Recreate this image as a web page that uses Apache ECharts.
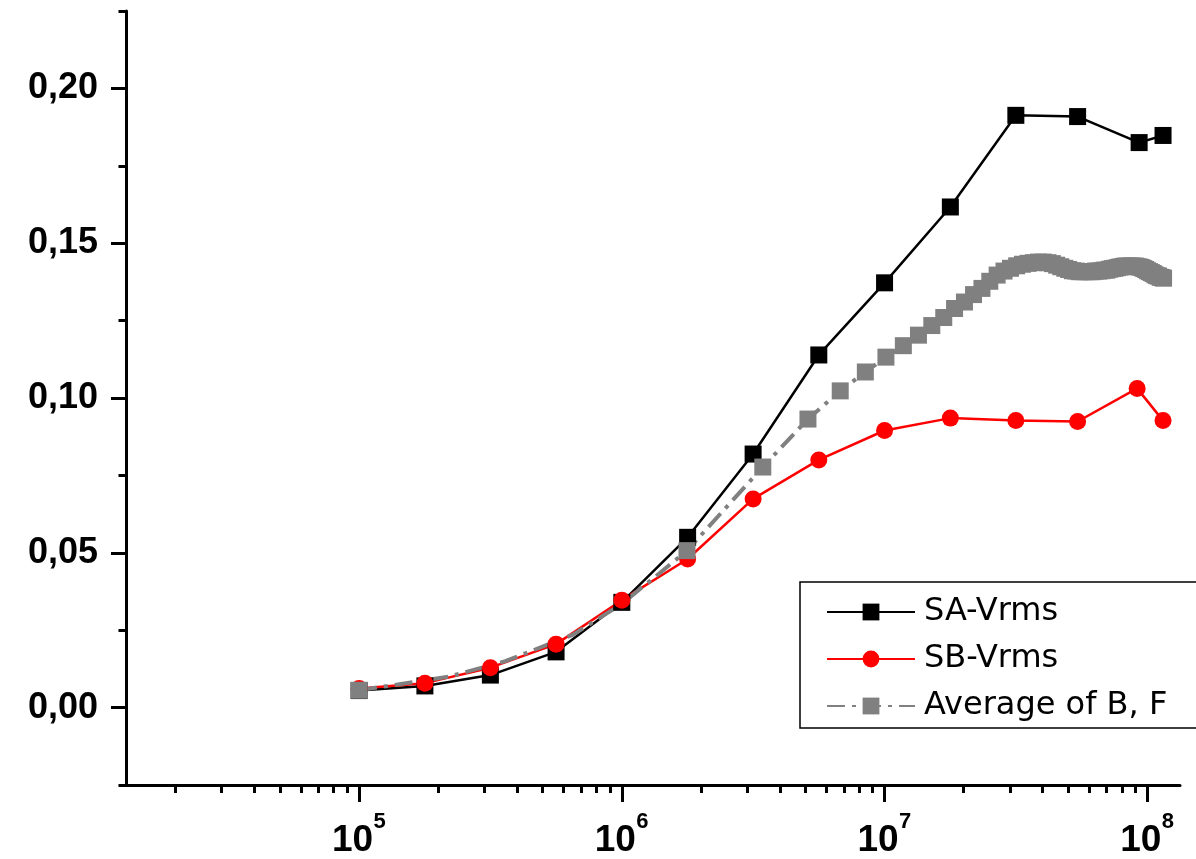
<!DOCTYPE html>
<html><head><meta charset="utf-8">
<script src="https://cdn.jsdelivr.net/npm/echarts@6/dist/echarts.min.js"></script>
<style>html,body{margin:0;padding:0;background:#fff}#c{width:1196px;height:859px}</style>
</head><body><div id="c"></div>
<script>
// ---- data ----
const seriesNames = ['SA-Vrms', 'SB-Vrms', 'Average of B, F'];

const saF = [1e5, 1.78e5, 3.16e5, 5.62e5, 1e6, 1.78e6, 3.16e6, 5.62e6, 1e7, 1.78e7, 3.16e7, 5.43e7, 9.31e7, 1.148e8];
const saV = [0.0055, 0.0070, 0.0105, 0.0180, 0.0340, 0.0550, 0.0819, 0.1139, 0.1372, 0.1617, 0.1913, 0.1909, 0.1825, 0.1848];

const sbF = [1e5, 1.78e5, 3.16e5, 5.62e5, 1e6, 1.78e6, 3.16e6, 5.62e6, 1e7, 1.78e7, 3.16e7, 5.43e7, 9.15e7, 1.148e8];
const sbV = [0.0062, 0.0079, 0.0129, 0.0205, 0.0347, 0.0480, 0.0674, 0.0800, 0.0895, 0.0935, 0.0927, 0.0924, 0.1031, 0.0927];

const avgF = [1.0e5, 1.77e6, 3.44e6, 5.11e6, 6.78e6, 8.45e6, 1.012e7, 1.179e7, 1.346e7, 1.513e7,
  1.68e7, 1.847e7, 2.014e7, 2.181e7, 2.348e7, 2.515e7, 2.682e7, 2.849e7, 3.016e7, 3.183e7,
  3.35e7, 3.517e7, 3.684e7, 3.851e7, 4.018e7, 4.185e7, 4.352e7, 4.519e7, 4.686e7, 4.853e7,
  5.02e7, 5.187e7, 5.354e7, 5.521e7, 5.688e7, 5.855e7, 6.022e7, 6.189e7, 6.356e7, 6.523e7,
  6.69e7, 6.857e7, 7.024e7, 7.191e7, 7.358e7, 7.525e7, 7.692e7, 7.859e7, 8.026e7, 8.193e7,
  8.36e7, 8.527e7, 8.694e7, 8.861e7, 9.028e7, 9.195e7, 9.362e7, 9.529e7, 9.696e7, 9.863e7,
  1.003e8, 1.0197e8, 1.0364e8, 1.0531e8, 1.0698e8, 1.0865e8, 1.1032e8, 1.1199e8, 1.1366e8, 1.1533e8];
const avgV = [0.0056, 0.0507, 0.0777, 0.0932, 0.1023, 0.1084, 0.1132, 0.1169, 0.1203, 0.1234,
  0.1260, 0.1289, 0.1310, 0.1334, 0.1354, 0.1377, 0.1397, 0.1410, 0.1419, 0.1427,
  0.1432, 0.1435, 0.1437, 0.1439, 0.1439, 0.1437, 0.1434, 0.1429, 0.1424, 0.1419,
  0.1415, 0.1411, 0.1410, 0.1408, 0.1408, 0.1408, 0.1408, 0.1408, 0.1410, 0.1410,
  0.1411, 0.1413, 0.1413, 0.1416, 0.1418, 0.1419, 0.1421, 0.1423, 0.1424, 0.1426,
  0.1426, 0.1426, 0.1426, 0.1426, 0.1426, 0.1424, 0.1423, 0.1421, 0.1418, 0.1415,
  0.1411, 0.1408, 0.1405, 0.1402, 0.1398, 0.1395, 0.1394, 0.1390, 0.1389, 0.1387];
// positions read along the dashed gray line where it bends and no marker is drawn
const avgTraceF = [2.2e5, 3.6e5, 6.5e5, 1.0e6, 1.35e6];
const avgTraceV = [0.0100, 0.0150, 0.0235, 0.0335, 0.0425];

const xMajorTicks = [1e5, 1e6, 1e7, 1e8];
const xMinorTicks = [2e4,3e4,4e4,5e4,6e4,7e4,8e4,9e4, 2e5,3e5,4e5,5e5,6e5,7e5,8e5,9e5,
  2e6,3e6,4e6,5e6,6e6,7e6,8e6,9e6, 2e7,3e7,4e7,5e7,6e7,7e7,8e7,9e7];
const yMajorTicks = [0, 0.05, 0.10, 0.15, 0.20];
const yMinorTicks = [-0.025, 0.025, 0.075, 0.125, 0.175, 0.225];

// ---- chart ----
const chart = echarts.init(document.getElementById('c'), null, {renderer: 'canvas'});
const AX = '#000';
const xMin = 12965, xMax = 1.332e8;
const FONT = 'Liberation Sans, Arial, sans-serif';

const avgData = avgF.map((f, i) => [f, avgV[i]])
  .concat(avgTraceF.map((f, i) => ({value: [f, avgTraceV[i]], symbol: 'none'})))
  .sort((a, b) => (Array.isArray(a) ? a[0] : a.value[0]) - (Array.isArray(b) ? b[0] : b.value[0]));

const baseX = {
  type: 'log', logBase: 10, min: xMin, max: xMax, position: 'bottom', offset: 0,
  splitLine: {show: false}, minorTick: {show: false}, minorSplitLine: {show: false}
};
const baseY = {
  type: 'value', min: -0.025, max: 0.225, position: 'left', offset: 0,
  splitLine: {show: false}
};

chart.setOption({
  animation: false,
  backgroundColor: '#fff',
  grid: {left: 126, top: 11, width: 1054, height: 775, containLabel: false},
  xAxis: [
    Object.assign({}, baseX, {
      axisLine: {show: true, onZero: false, lineStyle: {color: AX, width: 3}},
      axisTick: {show: true, customValues: xMajorTicks, length: 17, lineStyle: {color: AX, width: 3}},
      axisLabel: {
        show: true, customValues: xMajorTicks, margin: 36,
        formatter: v => '{g1|}{s|' + Math.round(Math.log10(v)) + '}\n{b|10}{g2|}',
        rich: {
          g1: {width: 41, lineHeight: 1},
          s: {fontFamily: FONT, fontWeight: 'bold', fontSize: 22, lineHeight: 1, color: '#000'},
          b: {fontFamily: FONT, fontWeight: 'bold', fontSize: 37, lineHeight: 37, color: '#000'},
          g2: {width: 13, lineHeight: 37}
        }
      }
    }),
    Object.assign({}, baseX, {
      axisLine: {show: false, onZero: false},
      axisTick: {show: true, customValues: xMinorTicks, length: 8, lineStyle: {color: AX, width: 3}},
      axisLabel: {show: false}
    })
  ],
  yAxis: [
    Object.assign({}, baseY, {
      axisLine: {show: true, onZero: false, lineStyle: {color: AX, width: 3}},
      axisTick: {show: true, customValues: yMajorTicks, length: 15, lineStyle: {color: AX, width: 3}},
      axisLabel: {
        show: true, customValues: yMajorTicks, margin: 28,
        fontFamily: FONT, fontWeight: 'bold', fontSize: 36, color: '#000',
        formatter: v => v.toFixed(2).replace('.', ',')
      }
    }),
    Object.assign({}, baseY, {
      axisLine: {show: false, onZero: false},
      axisTick: {show: true, customValues: yMinorTicks, length: 7.5, lineStyle: {color: AX, width: 3}},
      axisLabel: {show: false}
    })
  ],
  graphic: [{
    type: 'rect', z: 3, silent: true,
    shape: {x: 800, y: 582, width: 420, height: 146},
    style: {fill: '#fff', stroke: '#000', lineWidth: 1.5}
  }],
  legend: {
    z: 10, orient: 'vertical', left: 826, top: 594, padding: 0,
    itemWidth: 88, itemHeight: 21, itemGap: 11,
    data: seriesNames,
    textStyle: {fontFamily: 'DejaVu Sans, sans-serif', fontSize: 32, lineHeight: 36, color: '#000', padding: [0, 0, 0, 4]}
  },
  series: [
    {
      name: seriesNames[0], type: 'line', xAxisIndex: 0, yAxisIndex: 0,
      data: saF.map((f, i) => [f, saV[i]]),
      symbol: 'rect', symbolSize: 17,
      lineStyle: {color: '#000', width: 2.5}, itemStyle: {color: '#000'}
    },
    {
      name: seriesNames[1], type: 'line', xAxisIndex: 0, yAxisIndex: 0,
      data: sbF.map((f, i) => [f, sbV[i]]),
      symbol: 'circle', symbolSize: 17,
      lineStyle: {color: '#ff0000', width: 2.5}, itemStyle: {color: '#ff0000'}
    },
    {
      name: seriesNames[2], type: 'line', xAxisIndex: 0, yAxisIndex: 0,
      data: avgData,
      symbol: 'rect', symbolSize: 17,
      lineStyle: {color: '#808080', width: 4, type: [18, 7, 4, 7]}, itemStyle: {color: '#808080'}
    }
  ]
});
</script>
</body></html>
